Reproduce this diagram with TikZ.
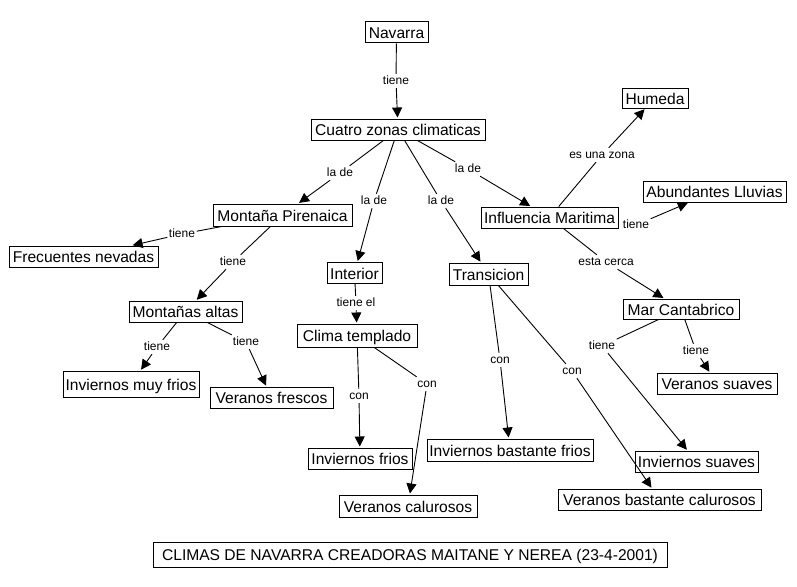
\documentclass[tikz,border=0pt]{standalone}
\usepackage{fontspec}
\setmainfont{Liberation Sans}
\usetikzlibrary{arrows.meta}
\newcommand\cfs{\fontsize{15.6pt}{18pt}\selectfont}
\newcommand\lfs{\fontsize{12pt}{14pt}\selectfont}
\begin{document}
\begin{tikzpicture}[x=1pt,y=-1pt,
  concept/.style={draw, line width=1pt, font=\cfs, inner sep=0pt, minimum height=21pt, text height=12pt, text depth=0pt},
  lbl/.style={font=\lfs, inner sep=1.5pt, text height=8.5pt, text depth=2.5pt},
  conn/.style={line width=0.9pt},
  arr/.style={conn, -{Triangle[length=10pt,width=10pt]}, shorten >=1pt}]
\useasboundingbox (0,0) rectangle (797,586);
\fill[white] (0,0) rectangle (797,586);
% concepts
\node[concept, minimum width=63pt] (nav) at (396.5,32.5) {Navarra};
\node[concept, minimum width=174pt] (cua) at (398,129.5) {Cuatro zonas climaticas};
\node[concept, minimum width=139pt, minimum height=22pt] (mon) at (282.5,215) {Montaña Pirenaica};
\node[concept, minimum width=149pt] (fre) at (83.5,256.5) {Frecuentes nevadas};
\node[concept, minimum width=55pt] (int) at (354.5,273) {Interior};
\node[concept, minimum width=66pt, minimum height=20pt] (hum) at (655,98) {Humeda};
\node[concept, minimum width=143pt] (abu) at (714.5,191.5) {Abundantes Lluvias};
\node[concept, minimum width=137pt] (inf) at (549.5,217.5) {Influencia Maritima};
\node[concept, minimum width=79pt, minimum height=22pt] (tra) at (488.5,274) {Transicion};
\node[concept, minimum width=113pt] (alt) at (185.5,311.5) {Montañas altas};
\node[concept, minimum width=120pt, minimum height=23pt] (cli) at (357,335.5) {Clima templado};
\node[concept, minimum width=136pt, minimum height=26pt] (imf) at (131,384) {Inviernos muy frios};
\node[concept, minimum width=123pt] (vfr) at (271.5,397.5) {Veranos frescos};
\node[concept, minimum width=104pt] (ifr) at (360,458.5) {Inviernos frios};
\node[concept, minimum width=138pt, minimum height=22pt] (vca) at (408,506) {Veranos calurosos};
\node[concept, minimum width=116pt, minimum height=20pt] (mar) at (681,309) {Mar Cantabrico};
\node[concept, minimum width=120pt] (vsu) at (717,383.5) {Veranos suaves};
\node[concept, minimum width=166pt, minimum height=22pt] (ibf) at (510,450) {Inviernos bastante frios};
\node[concept, minimum width=123pt] (isu) at (696.5,461.5) {Inviernos suaves};
\node[concept, minimum width=203pt] (vbc) at (659.5,499.5) {Veranos bastante calurosos};
\node[concept, minimum width=514pt, minimum height=25pt] (tit) at (410,554.5) {CLIMAS DE NAVARRA CREADORAS MAITANE Y NEREA (23-4-2001)};
% link labels
\node[lbl] (l1) at (396,81) {tiene};
\node[lbl] (l2) at (340,173) {la de};
\node[lbl] (l3) at (374,201) {la de};
\node[lbl] (l4) at (441,201) {la de};
\node[lbl] (l5) at (468,169) {la de};
\node[lbl] (l6) at (602,155) {es una zona};
\node[lbl] (l7) at (636,225) {tiene};
\node[lbl] (l8) at (606,262) {esta cerca};
\node[lbl] (l9) at (182,234) {tiene};
\node[lbl] (l10) at (233,262) {tiene};
\node[lbl] (l11) at (356,303) {tiene el};
\node[lbl] (l12) at (157,347) {tiene};
\node[lbl] (l13) at (246,342) {tiene};
\node[lbl] (l14) at (359,396) {con};
\node[lbl] (l15) at (427,384) {con};
\node[lbl] (l16) at (500,360) {con};
\node[lbl] (l17) at (572,371) {con};
\node[lbl] (l18) at (602,346) {tiene};
\node[lbl] (l19) at (696,351) {tiene};
% connectors
\draw[conn] (nav) -- (l1); \draw[arr] (l1) -- (cua);
\draw[conn] (cua) -- (l2); \draw[arr] (l2) -- (mon);
\draw[conn] (cua) -- (l3); \draw[arr] (l3) -- (int);
\draw[conn] (cua) -- (l4); \draw[arr] (l4) -- (tra);
\draw[conn] (cua) -- (l5); \draw[arr] (l5) -- (inf);
\draw[conn] (inf) -- (l6); \draw[arr] (l6) -- (hum);
\draw[arr] (l7) -- (abu);
\draw[conn] (inf) -- (l8); \draw[arr] (l8) -- (mar);
\draw[conn] (mon) -- (l9); \draw[arr] (l9) -- (fre);
\draw[conn] (mon) -- (l10); \draw[arr] (l10) -- (alt);
\draw[conn] (int) -- (l11); \draw[arr] (l11) -- (cli);
\draw[conn] (alt) -- (l12); \draw[arr] (l12) -- (imf);
\draw[conn] (alt) -- (l13); \draw[arr] (l13) -- (vfr);
\draw[conn] (cli) -- (l14); \draw[arr] (l14) -- (ifr);
\draw[conn] (cli) -- (l15); \draw[arr] (l15) -- (vca);
\draw[conn] (tra) -- (l16); \draw[arr] (l16) -- (ibf);
\draw[conn] (tra) -- (l17); \draw[arr] (l17) -- (vbc);
\draw[conn] (mar) -- (l18); \draw[arr] (l18) -- (isu);
\draw[conn] (mar) -- (l19); \draw[arr] (l19) -- (vsu);
\end{tikzpicture}
\end{document}
